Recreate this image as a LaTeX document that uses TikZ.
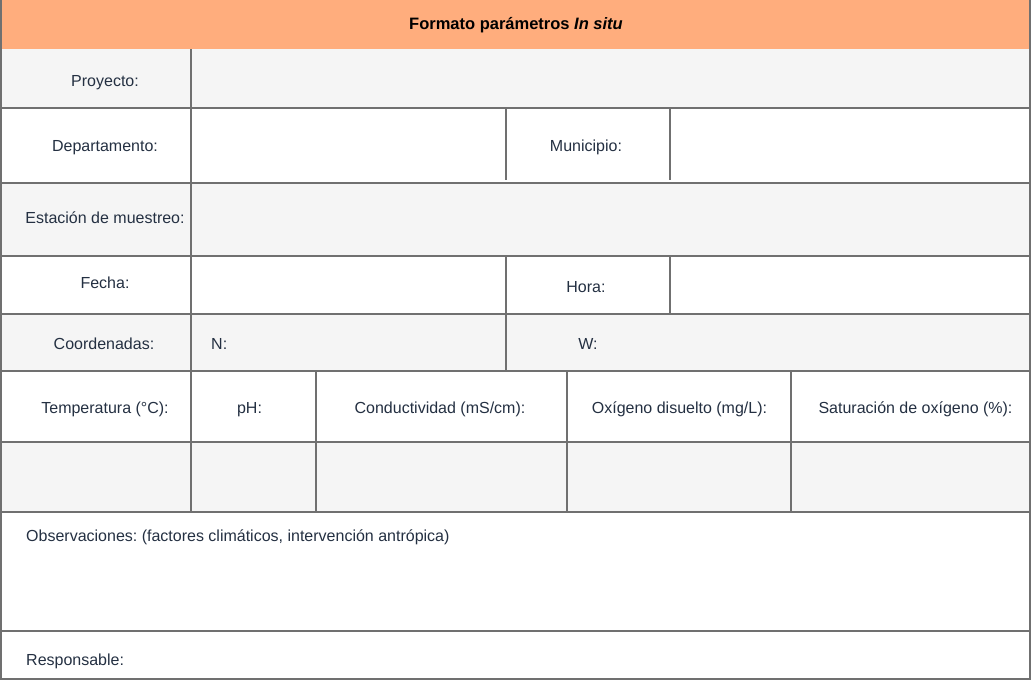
\documentclass[tikz,border=0pt]{standalone}
\usepackage{fontspec}
\setmainfont{Liberation Sans}
\frenchspacing
\definecolor{hdr}{HTML}{FFAD7D}
\definecolor{rowg}{HTML}{F5F5F5}
\definecolor{gridc}{HTML}{707070}
\definecolor{txt}{HTML}{243042}
\tikzset{
  grid line/.style={draw=gridc, line width=2pt},
  lbl/.style={inner sep=0pt, text=txt, font=\fontsize{16}{19}\selectfont, anchor=center, text height=11.5pt, text depth=3.5pt},
  lbll/.style={lbl, anchor=west},
  ttl/.style={inner sep=0pt, text=black, font=\bfseries\fontsize{16.5}{19}\selectfont, anchor=center, text height=12pt, text depth=3.5pt}
}
\begin{document}
\begin{tikzpicture}[x=1pt,y=-1pt]
\useasboundingbox (0,0) rectangle (1032,680);
% fills
\fill[white] (0,0) rectangle (1032,680);
\fill[hdr] (0,0) rectangle (1031,49);
\fill[rowg] (0,49) rectangle (1031,108);
\fill[rowg] (0,183) rectangle (1031,256);
\fill[rowg] (0,314) rectangle (1031,371);
\fill[rowg] (0,442) rectangle (1031,512);
% horizontal lines
\foreach \yy in {108,183,256,314,371,442,512,631}
  \draw[grid line] (0,\yy) -- (1031,\yy);
% border
\draw[grid line] (1,0) -- (1,679) -- (1030,679) -- (1030,0);
% vertical lines
\draw[grid line] (191,49) -- (191,512);
\draw[grid line] (506,108) -- (506,180);
\draw[grid line] (670,108) -- (670,180);
\draw[grid line] (506,256) -- (506,371);
\draw[grid line] (670,256) -- (670,314);
\foreach \xx in {316,567,791}
  \draw[grid line] (\xx,371) -- (\xx,512);
% texts
\node[ttl] (title) at (516,25) {Formato parámetros \textit{In situ}};
\node[lbl] (proy) at (105,82) {Proyecto:};
\node[lbl] (dep) at (105,147) {Departamento:};
\node[lbl] (mun) at (586,147) {Municipio:};
\node[lbl] (est) at (105,219) {Estación de muestreo:};
\node[lbl] (fec) at (105,284) {Fecha:};
\node[lbl] (hor) at (586,288) {Hora:};
\node[lbl] (coo) at (104,345) {Coordenadas:};
\node[lbll] (n) at (211,345) {N:};
\node[lbl] (w) at (588,345) {W:};
\node[lbl] (tem) at (105,409) {Temperatura (°C):};
\node[lbl] (ph) at (249.5,409) {pH:};
\node[lbl] (con) at (440,409) {Conductividad (mS/cm):};
\node[lbl] (oxi) at (679.5,409) {Oxígeno disuelto (mg/L):};
\node[lbl] (sat) at (915.5,409) {Saturación de oxígeno (\%):};
\node[lbll] (obs) at (26,537) {Observaciones: (factores climáticos, intervención antrópica)};
\node[lbll] (res) at (26,661) {Responsable:};
\end{tikzpicture}
\end{document}
